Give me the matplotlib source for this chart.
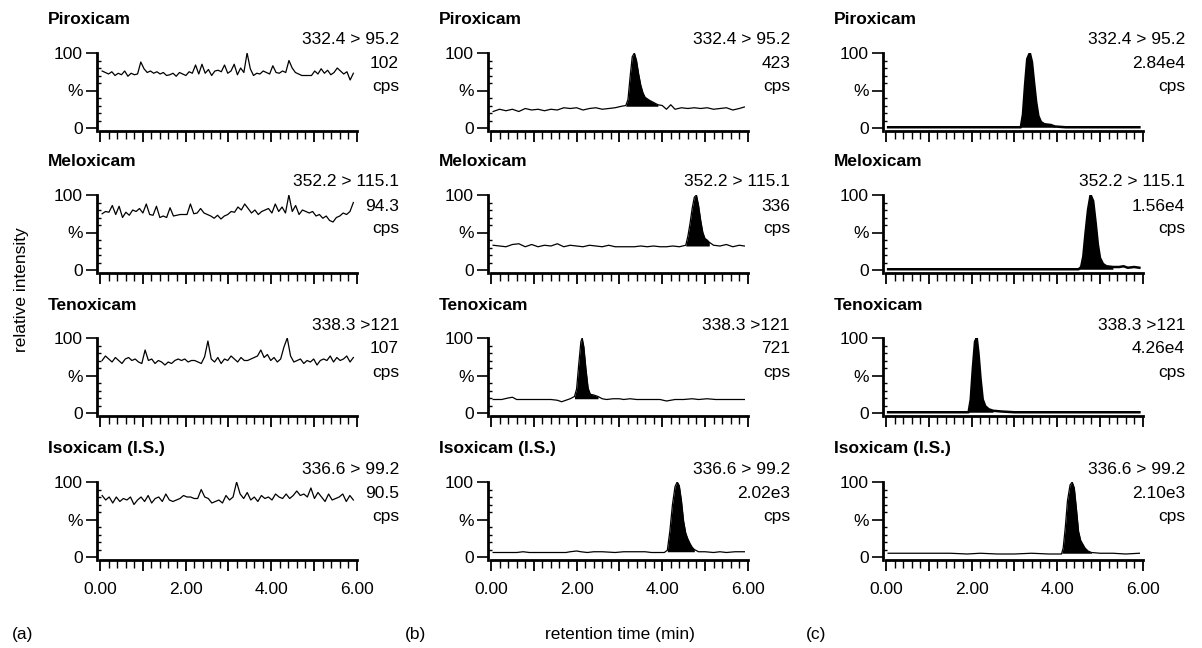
import numpy as np
import matplotlib.pyplot as plt
from matplotlib.ticker import MultipleLocator, FuncFormatter

plt.rcParams['font.family'] = ['Liberation Sans', 'DejaVu Sans']

compounds = ['Piroxicam', 'Meloxicam', 'Tenoxicam', 'Isoxicam (I.S.)']
transitions = ['332.4 > 95.2', '352.2 > 115.1', '338.3 >121', '336.6 > 99.2']
cps_a = ['102', '94.3', '107', '90.5']
cps_b = ['423', '336', '721', '2.02e3']
cps_c = ['2.84e4', '1.56e4', '4.26e4', '2.10e3']

# (a) blank plasma: noise only, evenly sampled from 0.05 to 5.9 min
pir_a = [76, 74, 72, 75, 70, 73, 71, 76, 69, 73, 71, 72, 88, 79, 74, 76, 73, 75, 72, 74,
         70, 71, 73, 69, 74, 72, 70, 75, 73, 84, 72, 85, 73, 78, 70, 76, 77, 75, 84, 73,
         76, 85, 71, 80, 74, 100, 79, 70, 73, 72, 76, 74, 72, 83, 74, 73, 76, 74, 90, 80,
         74, 72, 70, 70, 70, 70, 76, 72, 79, 73, 77, 71, 74, 80, 76, 72, 75, 64, 73]
mel_a = [75, 78, 77, 86, 74, 85, 70, 77, 73, 80, 78, 82, 76, 88, 74, 73, 85, 70, 72, 70,
         83, 72, 73, 74, 74, 74, 88, 75, 76, 82, 76, 74, 72, 69, 73, 68, 72, 74, 78, 77,
         84, 80, 88, 82, 76, 80, 74, 78, 80, 82, 76, 88, 78, 84, 76, 100, 78, 86, 74, 80,
         78, 76, 78, 72, 74, 69, 72, 66, 64, 70, 72, 76, 74, 78, 90]
ten_a = [70, 76, 72, 68, 74, 70, 66, 72, 74, 70, 72, 68, 66, 84, 70, 72, 66, 70, 68, 64,
         68, 66, 70, 72, 70, 72, 68, 70, 70, 68, 66, 75, 96, 72, 68, 74, 66, 72, 70, 76,
         72, 68, 74, 70, 70, 72, 74, 76, 84, 74, 78, 70, 74, 68, 72, 88, 100, 76, 68, 70,
         72, 66, 70, 68, 72, 64, 70, 72, 70, 76, 68, 74, 70, 72, 76, 68, 74]
iso_a = [82, 76, 80, 72, 80, 74, 78, 76, 80, 70, 76, 80, 74, 82, 72, 78, 80, 74, 84, 76,
         74, 76, 78, 82, 80, 80, 78, 78, 90, 80, 78, 72, 74, 76, 72, 82, 76, 80, 100, 84,
         78, 86, 76, 80, 74, 82, 78, 80, 76, 84, 80, 78, 84, 78, 82, 88, 82, 84, 80, 92,
         78, 86, 80, 74, 84, 76, 78, 80, 84, 74, 82, 76]

# (b) and (c): (time, %) points
pir_b = [(0.05, 22), (0.2, 25), (0.35, 23), (0.5, 25), (0.65, 22), (0.8, 26), (0.95, 24),
         (1.1, 25), (1.25, 23), (1.4, 25), (1.55, 24), (1.7, 27), (1.85, 26), (2.0, 27),
         (2.15, 24), (2.3, 26), (2.45, 27), (2.6, 25), (2.75, 26), (2.9, 27), (3.05, 29),
         (3.15, 30), (3.2, 38), (3.25, 68), (3.3, 95), (3.35, 100), (3.4, 90), (3.45, 72),
         (3.5, 57), (3.55, 47), (3.6, 41), (3.7, 37), (3.8, 34), (3.9, 31), (4.0, 30),
         (4.1, 25), (4.2, 31), (4.3, 25), (4.45, 27), (4.6, 26), (4.75, 27), (4.9, 26),
         (5.05, 27), (5.2, 25), (5.35, 26), (5.5, 27), (5.65, 24), (5.8, 26), (5.92, 28)]
mel_b = [(0.05, 33), (0.2, 32), (0.35, 31), (0.5, 34), (0.65, 35), (0.8, 31), (0.95, 34),
         (1.1, 31), (1.25, 33), (1.4, 32), (1.55, 35), (1.7, 31), (1.85, 33), (2.0, 32),
         (2.15, 31), (2.3, 33), (2.45, 32), (2.6, 31), (2.75, 33), (2.9, 31), (3.05, 31),
         (3.2, 31), (3.35, 31), (3.5, 32), (3.65, 31), (3.8, 32), (3.95, 31), (4.1, 31),
         (4.25, 32), (4.4, 31), (4.55, 33), (4.6, 45), (4.65, 62), (4.7, 82), (4.75, 97),
         (4.8, 100), (4.85, 86), (4.9, 66), (4.95, 50), (5.0, 42), (5.05, 40), (5.1, 37),
         (5.2, 33), (5.35, 32), (5.5, 34), (5.65, 31), (5.8, 33), (5.92, 32)]
ten_b = [(0.05, 18), (0.25, 18), (0.4, 20), (0.5, 21), (0.6, 18), (0.8, 18), (1.0, 18),
         (1.2, 18), (1.4, 18), (1.55, 17), (1.65, 15), (1.75, 17), (1.85, 19), (1.95, 22),
         (2.0, 32), (2.05, 65), (2.1, 95), (2.13, 100), (2.17, 88), (2.22, 58), (2.27, 33),
         (2.32, 25), (2.4, 24), (2.5, 22), (2.6, 19), (2.7, 18), (2.85, 19), (3.0, 19),
         (3.1, 18), (3.25, 19), (3.4, 18), (3.55, 18), (3.75, 18), (3.95, 18), (4.1, 16),
         (4.3, 18), (4.5, 18), (4.7, 19), (4.85, 18), (5.05, 19), (5.25, 18), (5.45, 18),
         (5.65, 18), (5.92, 18)]
iso_b = [(0.05, 6), (0.3, 6), (0.6, 6), (0.75, 7), (0.9, 6), (1.2, 6), (1.5, 6),
         (1.75, 6), (1.85, 7), (2.0, 8), (2.1, 7), (2.25, 6), (2.4, 7), (2.6, 7),
         (2.9, 6), (3.1, 7), (3.3, 7), (3.6, 7), (3.75, 6), (3.9, 6), (4.05, 6),
         (4.12, 9), (4.18, 35), (4.24, 70), (4.3, 94), (4.35, 100), (4.4, 95), (4.45, 75),
         (4.5, 48), (4.55, 32), (4.6, 24), (4.65, 18), (4.7, 13), (4.75, 10), (4.85, 7),
         (5.0, 7), (5.2, 6), (5.35, 7), (5.5, 6), (5.7, 7), (5.92, 7)]

pir_c = [(0.05, 1), (0.5, 1), (1.0, 1), (1.5, 1), (2.0, 1), (2.5, 1), (3.0, 1), (3.15, 1),
         (3.2, 18), (3.25, 58), (3.3, 92), (3.36, 100), (3.41, 88), (3.46, 60), (3.51, 34),
         (3.56, 16), (3.62, 8), (3.7, 5), (3.85, 4), (3.95, 2), (4.2, 1), (4.7, 1), (5.2, 1),
         (5.92, 1)]
mel_c = [(0.05, 1), (0.5, 1), (1.0, 1), (1.5, 1), (2.0, 1), (2.5, 1), (3.0, 1), (3.5, 1),
         (4.0, 1), (4.5, 1), (4.56, 4), (4.61, 18), (4.66, 48), (4.72, 80), (4.78, 100),
         (4.84, 92), (4.9, 62), (4.95, 34), (5.0, 16), (5.07, 8), (5.15, 5), (5.3, 4),
         (5.45, 4), (5.55, 5), (5.65, 3), (5.8, 4), (5.92, 3)]
ten_c = [(0.05, 1), (0.5, 1), (1.0, 1), (1.5, 1), (1.93, 1), (1.98, 18), (2.03, 60),
         (2.08, 95), (2.12, 100), (2.16, 80), (2.21, 45), (2.26, 18), (2.32, 9), (2.4, 5),
         (2.5, 3), (2.7, 2), (3.0, 1), (3.5, 1), (4.0, 1), (4.5, 1), (5.0, 1), (5.5, 1),
         (5.92, 1)]
iso_c = [(0.05, 5), (0.5, 5), (1.0, 5), (1.5, 5), (1.9, 4), (2.2, 5), (2.6, 4), (3.0, 4),
         (3.4, 5), (3.8, 4), (4.1, 4), (4.14, 12), (4.19, 40), (4.24, 75), (4.3, 96),
         (4.35, 100), (4.4, 92), (4.45, 64), (4.5, 34), (4.55, 22), (4.6, 17), (4.65, 12),
         (4.72, 8), (4.8, 6), (5.0, 5), (5.3, 5), (5.6, 4), (5.92, 5)]

traces_a = [pir_a, mel_a, ten_a, iso_a]
traces_b = [pir_b, mel_b, ten_b, iso_b]
traces_c = [pir_c, mel_c, ten_c, iso_c]
# baseline level and window of the shaded peak
fill_b = [(29, 3.15, 3.9), (32, 4.55, 5.1), (19, 1.95, 2.5), (7, 4.1, 4.8)]
fill_c = [(1, 3.15, 3.95), (1, 4.5, 5.3), (1, 1.93, 2.6), (5, 4.1, 4.8)]

W, H = 1202, 648
fig = plt.figure(figsize=(W / 100, H / 100), dpi=100)

col_left = [97, 488, 883]
row_zero = [128, 270, 413, 557]
ppm = 42.8    # px per minute
ppp = 0.75    # px per percent


def style_axes(ax, bottom_row):
    ax.set_xlim(-0.07, 6.03)
    ax.set_ylim(-4, 100)
    for s in ['top', 'right']:
        ax.spines[s].set_visible(False)
    for s in ['left', 'bottom']:
        ax.spines[s].set_linewidth(2)
    ax.spines['bottom'].set_bounds(0, 6)
    ax.xaxis.set_major_locator(MultipleLocator(1))
    ax.xaxis.set_minor_locator(MultipleLocator(0.2))
    if bottom_row:
        ax.xaxis.set_major_formatter(FuncFormatter(
            lambda v, p: f'{v:.2f}' if round(v) % 2 == 0 else ''))
    else:
        ax.set_xticklabels([])
    ax.set_yticks([0, 50, 100])
    ax.set_yticklabels(['0', '%', '100'])
    ax.yaxis.set_minor_locator(MultipleLocator(10))
    ax.tick_params(axis='x', which='major', length=8, width=1.3, direction='out',
                   labelsize=12.5, pad=8)
    ax.tick_params(axis='x', which='minor', length=6, width=1.0, direction='out')
    ax.tick_params(axis='y', which='major', length=8, width=1.2, direction='out',
                   labelsize=12.5, pad=2)
    ax.tick_params(axis='y', which='minor', length=3, width=1.0, direction='in')
    ax.patch.set_alpha(0)


cps_all = [cps_a, cps_b, cps_c]
for r in range(4):
    y0 = row_zero[r]
    for c in range(3):
        L = col_left[c]
        ax = fig.add_axes([L / W, 1 - (y0 + 3) / H, 6.10 * ppm / W, 104 * ppp / H])
        style_axes(ax, r == 3)
        if c == 0:
            vals = traces_a[r]
            t = np.linspace(0.05, 5.92, len(vals))
            ax.plot(t, vals, color='black', lw=0.9)
        else:
            pts = (traces_b if c == 1 else traces_c)[r]
            t = np.array([p[0] for p in pts])
            v = np.array([p[1] for p in pts])
            base, t0, t1 = (fill_b if c == 1 else fill_c)[r]
            lw = 1.8 if (c == 2 and r < 3) else 0.9
            ax.plot(t, v, color='black', lw=lw)
            m = (t >= t0) & (t <= t1)
            ax.fill_between(t[m], base, v[m], where=v[m] >= base, color='black',
                            interpolate=True, lw=0)
        fig.text((L - 49) / W, 1 - (y0 - 108) / H, compounds[r], fontsize=12.5,
                 fontweight='bold', ha='left', va='center')
        xr = (L + 302) / W
        fig.text(xr, 1 - (y0 - 88) / H, transitions[r], fontsize=12.5,
                 ha='right', va='center')
        fig.text(xr, 1 - (y0 - 64) / H, cps_all[c][r], fontsize=12.5,
                 ha='right', va='center')
        fig.text(xr, 1 - (y0 - 41) / H, 'cps', fontsize=12.5,
                 ha='right', va='center')

fig.text(22 / W, 1 - 290 / H, 'relative intensity', rotation=90, fontsize=12.5,
         ha='center', va='center')
fig.text(12 / W, 1 - 634 / H, '(a)', fontsize=12.5, ha='left', va='center')
fig.text(405 / W, 1 - 634 / H, '(b)', fontsize=12.5, ha='left', va='center')
fig.text(620 / W, 1 - 634 / H, 'retention time (min)', fontsize=12.5,
         ha='center', va='center')
fig.text(806 / W, 1 - 634 / H, '(c)', fontsize=12.5, ha='left', va='center')

fig.savefig('out.png', dpi=100)
